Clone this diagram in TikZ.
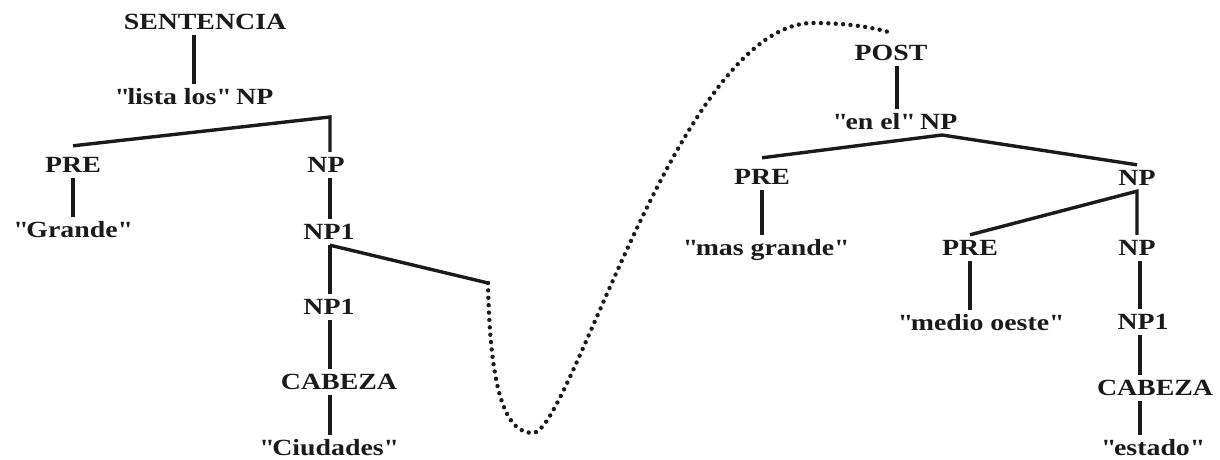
\documentclass[tikz,border=0pt]{standalone}
\usepackage{fontspec}
\setmainfont{Liberation Serif}[FakeStretch=1.2]
\usetikzlibrary{positioning,calc}
\definecolor{tkInk}{HTML}{1A1A1A}
\newcommand{\dq}{\textquotedbl}
\tikzset{
  lbl/.style={font=\bfseries\fontsize{11.6}{13}\selectfont, text=tkInk, inner sep=2.5pt, text height=7.8pt, text depth=0pt},
  br/.style={line width=1.7pt, draw=tkInk},
  hop/.style={line width=2.2pt, draw=tkInk, line cap=round, dash pattern=on 0pt off 3.7pt},
}
\begin{document}
\begin{tikzpicture}[x=0.5pt, y=-0.5pt]
  \useasboundingbox (0,0) rectangle (1220,460);
  % left tree
  \node[lbl] (sent)  at (205,22)  {SENTENCIA};
  \node[lbl] (lista) at (194,97)  {\dq lista los\dq{} NP};
  \node[lbl] (preL)  at (73,165)  {PRE};
  \node[lbl] (grand) at (72,230)  {\dq Grande\dq};
  \node[lbl] (npL)   at (326,165) {NP};
  \node[lbl] (np1a)  at (329,232) {NP1};
  \node[lbl] (np1b)  at (329,307) {NP1};
  \node[lbl] (cabL)  at (339,382) {CABEZA};
  \node[lbl] (ciud)  at (328,448) {\dq Ciudades\dq};
  \coordinate (lcol)   at (330,0);
  \coordinate (lsplit) at (330,117);
  \coordinate (lcut)   at (488,283);
  % right tree
  \node[lbl] (post)  at (891,53)   {POST};
  \node[lbl] (enel)  at (895,122)  {\dq en el\dq{} NP};
  \node[lbl] (preR)  at (762,177)  {PRE};
  \node[lbl] (masg)  at (765,248)  {\dq mas grande\dq};
  \node[lbl] (npR)   at (1137,178) {NP};
  \node[lbl] (pre2)  at (970,248)  {PRE};
  \node[lbl] (medio) at (980,323)  {\dq medio oeste\dq};
  \node[lbl] (np2)   at (1137,248) {NP};
  \node[lbl] (np1R)  at (1143,322) {NP1};
  \node[lbl] (cabR)  at (1155,388) {CABEZA};
  \node[lbl] (est)   at (1152,448) {\dq estado\dq};
  \coordinate (rcol)   at (1140,0);
  \coordinate (rsplit) at (942,135);
  \coordinate (pcut)   at (892,33);

  \draw[br] (lista.north) -- (lista.north |- sent.south);
  \draw[br] ([yshift=3pt]preL.north) -- (lsplit) -- (npL.north -| lsplit);
  \draw[br] (grand.north -| preL.south) -- (preL.south);
  \foreach \a/\b in {npL/np1a, np1a/np1b, np1b/cabL, cabL/ciud}
    \draw[br] (\a.south -| lcol) -- (\b.north -| lcol);
  \draw[br] (np1a.south -| lcol) -- (lcut);

  \draw[br] (enel.north -| 897,0) -- (post.south -| 897,0);
  \draw[br] ([yshift=3pt]preR.north) -- (rsplit) -- (npR.north);
  \draw[br] (preR.south) -- (masg.north -| preR.south);
  \draw[br] (pre2.north) -- (npR.south) -- (np2.north);
  \draw[br] (pre2.south) -- (medio.north -| pre2.south);
  \foreach \a/\b in {np2/np1R, np1R/cabR, cabR/est}
    \draw[br] (\a.south -| rcol) -- (\b.north -| rcol);

  % dotted link
  \draw[hop] (lcut) .. controls (490,390) and (505,433) .. (533,433)
    .. controls (570,433) and (680,23) .. (813,23)
    .. controls (850,23) and (875,28) .. (pcut);
\end{tikzpicture}
\end{document}
